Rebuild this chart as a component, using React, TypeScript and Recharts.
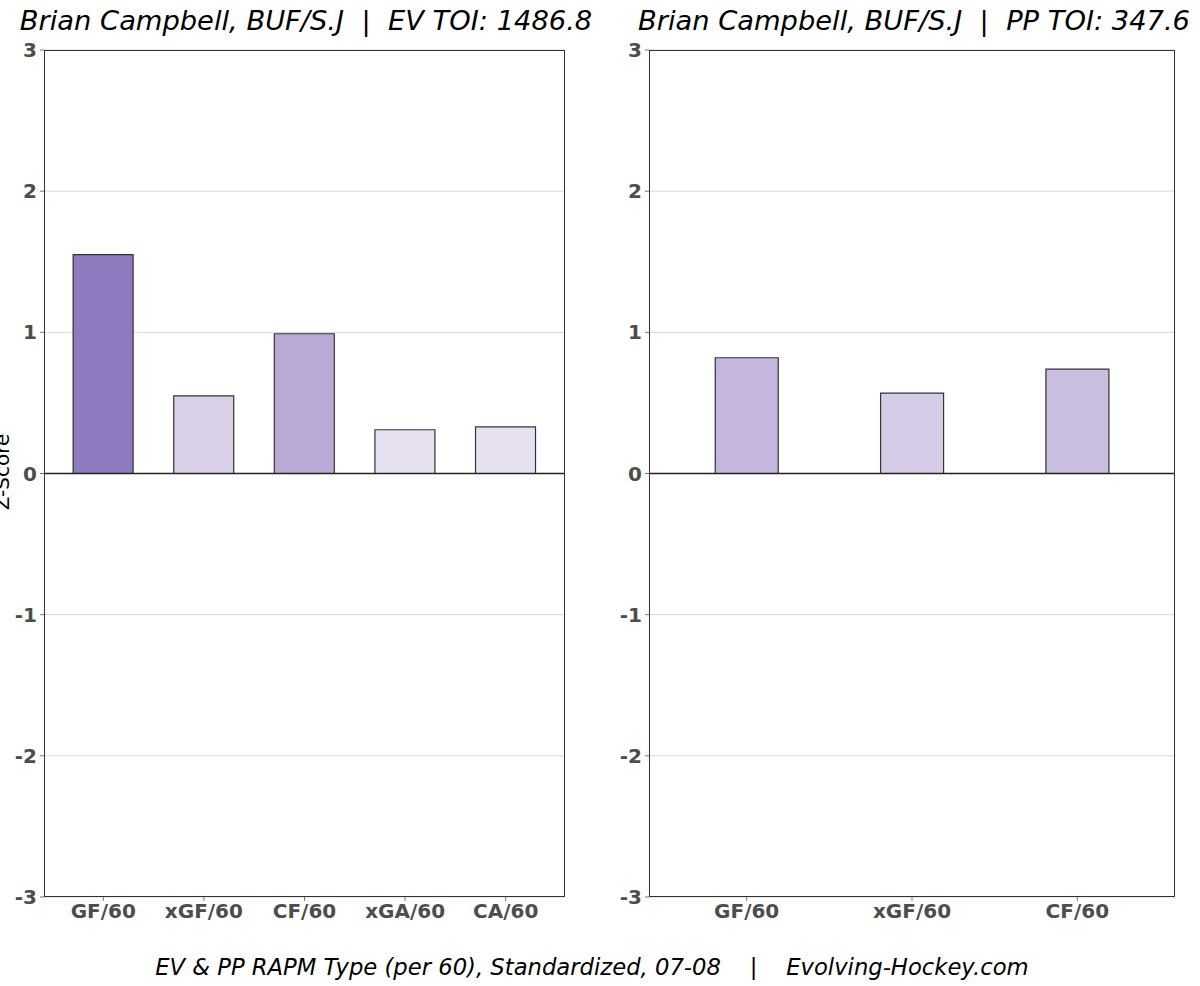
import { Bar, BarChart, CartesianGrid, Cell, ReferenceLine, XAxis, YAxis } from 'recharts'

const evMetrics = ['GF/60', 'xGF/60', 'CF/60', 'xGA/60', 'CA/60']
const evValues = [1.55, 0.55, 0.99, 0.31, 0.33]
const ppMetrics = ['GF/60', 'xGF/60', 'CF/60']
const ppValues = [0.82, 0.57, 0.74]
const yTicks = [-3, -2, -1, 0, 1, 2, 3]

const EV_COLORS = ['#8e7abf', '#d9d0e8', '#baa8d6', '#e7e0f0', '#e7e0f0']
const PP_COLORS = ['#c4b6dc', '#d6cce7', '#c9bde0']

const FONT = '"DejaVu Sans", sans-serif'
const tickStyle = { fill: '#4d4d4d', fontSize: 20, fontWeight: 700, fontFamily: FONT }

const evData = evMetrics.map((name, i) => ({ name, value: evValues[i] }))
const ppData = ppMetrics.map((name, i) => ({ name, value: ppValues[i] }))

function Panel({
  data,
  colors,
  gap,
  pad,
  width,
}: {
  data: { name: string; value: number }[]
  colors: string[]
  gap: string
  pad: number
  width: number
}) {
  return (
    <div style={{ position: 'relative', width, height: 986 }}>
      <BarChart
        width={width}
        height={986}
        data={data}
        margin={{ top: 50, right: 15, left: 0, bottom: 0 }}
        barCategoryGap={gap}
      >
        <CartesianGrid vertical={false} stroke="#d6d6d6" />
        <XAxis
          dataKey="name"
          height={89}
          tick={tickStyle}
          tickSize={4}
          tickMargin={3}
          axisLine={false}
          tickLine={{ stroke: '#777' }}
          padding={{ left: pad, right: pad }}
          interval={0}
        />
        <YAxis
          domain={[-3, 3]}
          ticks={yTicks}
          width={44}
          tick={tickStyle}
          tickSize={4}
          tickMargin={3}
          axisLine={false}
          tickLine={{ stroke: '#777' }}
          interval={0}
        />
        <ReferenceLine y={0} stroke="#222" strokeWidth={1.3} />
        <Bar dataKey="value" stroke="#333" strokeWidth={1.2} isAnimationActive={false}>
          {data.map((d, i) => (
            <Cell key={d.name} fill={colors[i]} />
          ))}
        </Bar>
      </BarChart>
      <div
        style={{
          position: 'absolute',
          left: 44,
          top: 50,
          width: width - 15 - 44,
          height: 847,
          boxSizing: 'border-box',
          border: '1.4px solid #333',
          pointerEvents: 'none',
        }}
      />
    </div>
  )
}

export default function App() {
  const titleStyle = {
    position: 'absolute' as const,
    top: 5,
    fontFamily: FONT,
    fontStyle: 'italic',
    fontSize: 27.3,
    color: '#000',
    whiteSpace: 'pre' as const,
    textAlign: 'center' as const,
    width: 640,
  }
  return (
    <div style={{ position: 'absolute', left: 0, top: 0, width: 1200, height: 986, background: '#fff', overflow: 'hidden' }}>
      <div style={{ position: 'absolute', left: 0, top: 0 }}>
        <Panel data={evData} colors={EV_COLORS} gap="20%" pad={9} width={580} />
      </div>
      <div style={{ position: 'absolute', left: 605, top: 0 }}>
        <Panel data={ppData} colors={PP_COLORS} gap="31%" pad={15} width={585} />
      </div>
      <div style={{ ...titleStyle, left: 306 - 320 }}>{'Brian Campbell, BUF/S.J  |  EV TOI: 1486.8'}</div>
      <div style={{ ...titleStyle, left: 914 - 320 }}>{'Brian Campbell, BUF/S.J  |  PP TOI: 347.6'}</div>
      <div
        style={{
          position: 'absolute',
          left: -38,
          top: 460,
          width: 80,
          textAlign: 'center',
          transform: 'rotate(-90deg)',
          fontFamily: FONT,
          fontSize: 20,
          color: '#000',
        }}
      >
        Z-Score
      </div>
      <div
        style={{
          position: 'absolute',
          left: 0,
          top: 954,
          width: 1184,
          textAlign: 'center',
          fontFamily: FONT,
          fontStyle: 'italic',
          fontSize: 22.7,
          whiteSpace: 'pre',
        }}
      >
        {'EV & PP RAPM Type (per 60), Standardized, 07-08    |    Evolving-Hockey.com'}
      </div>
    </div>
  )
}
